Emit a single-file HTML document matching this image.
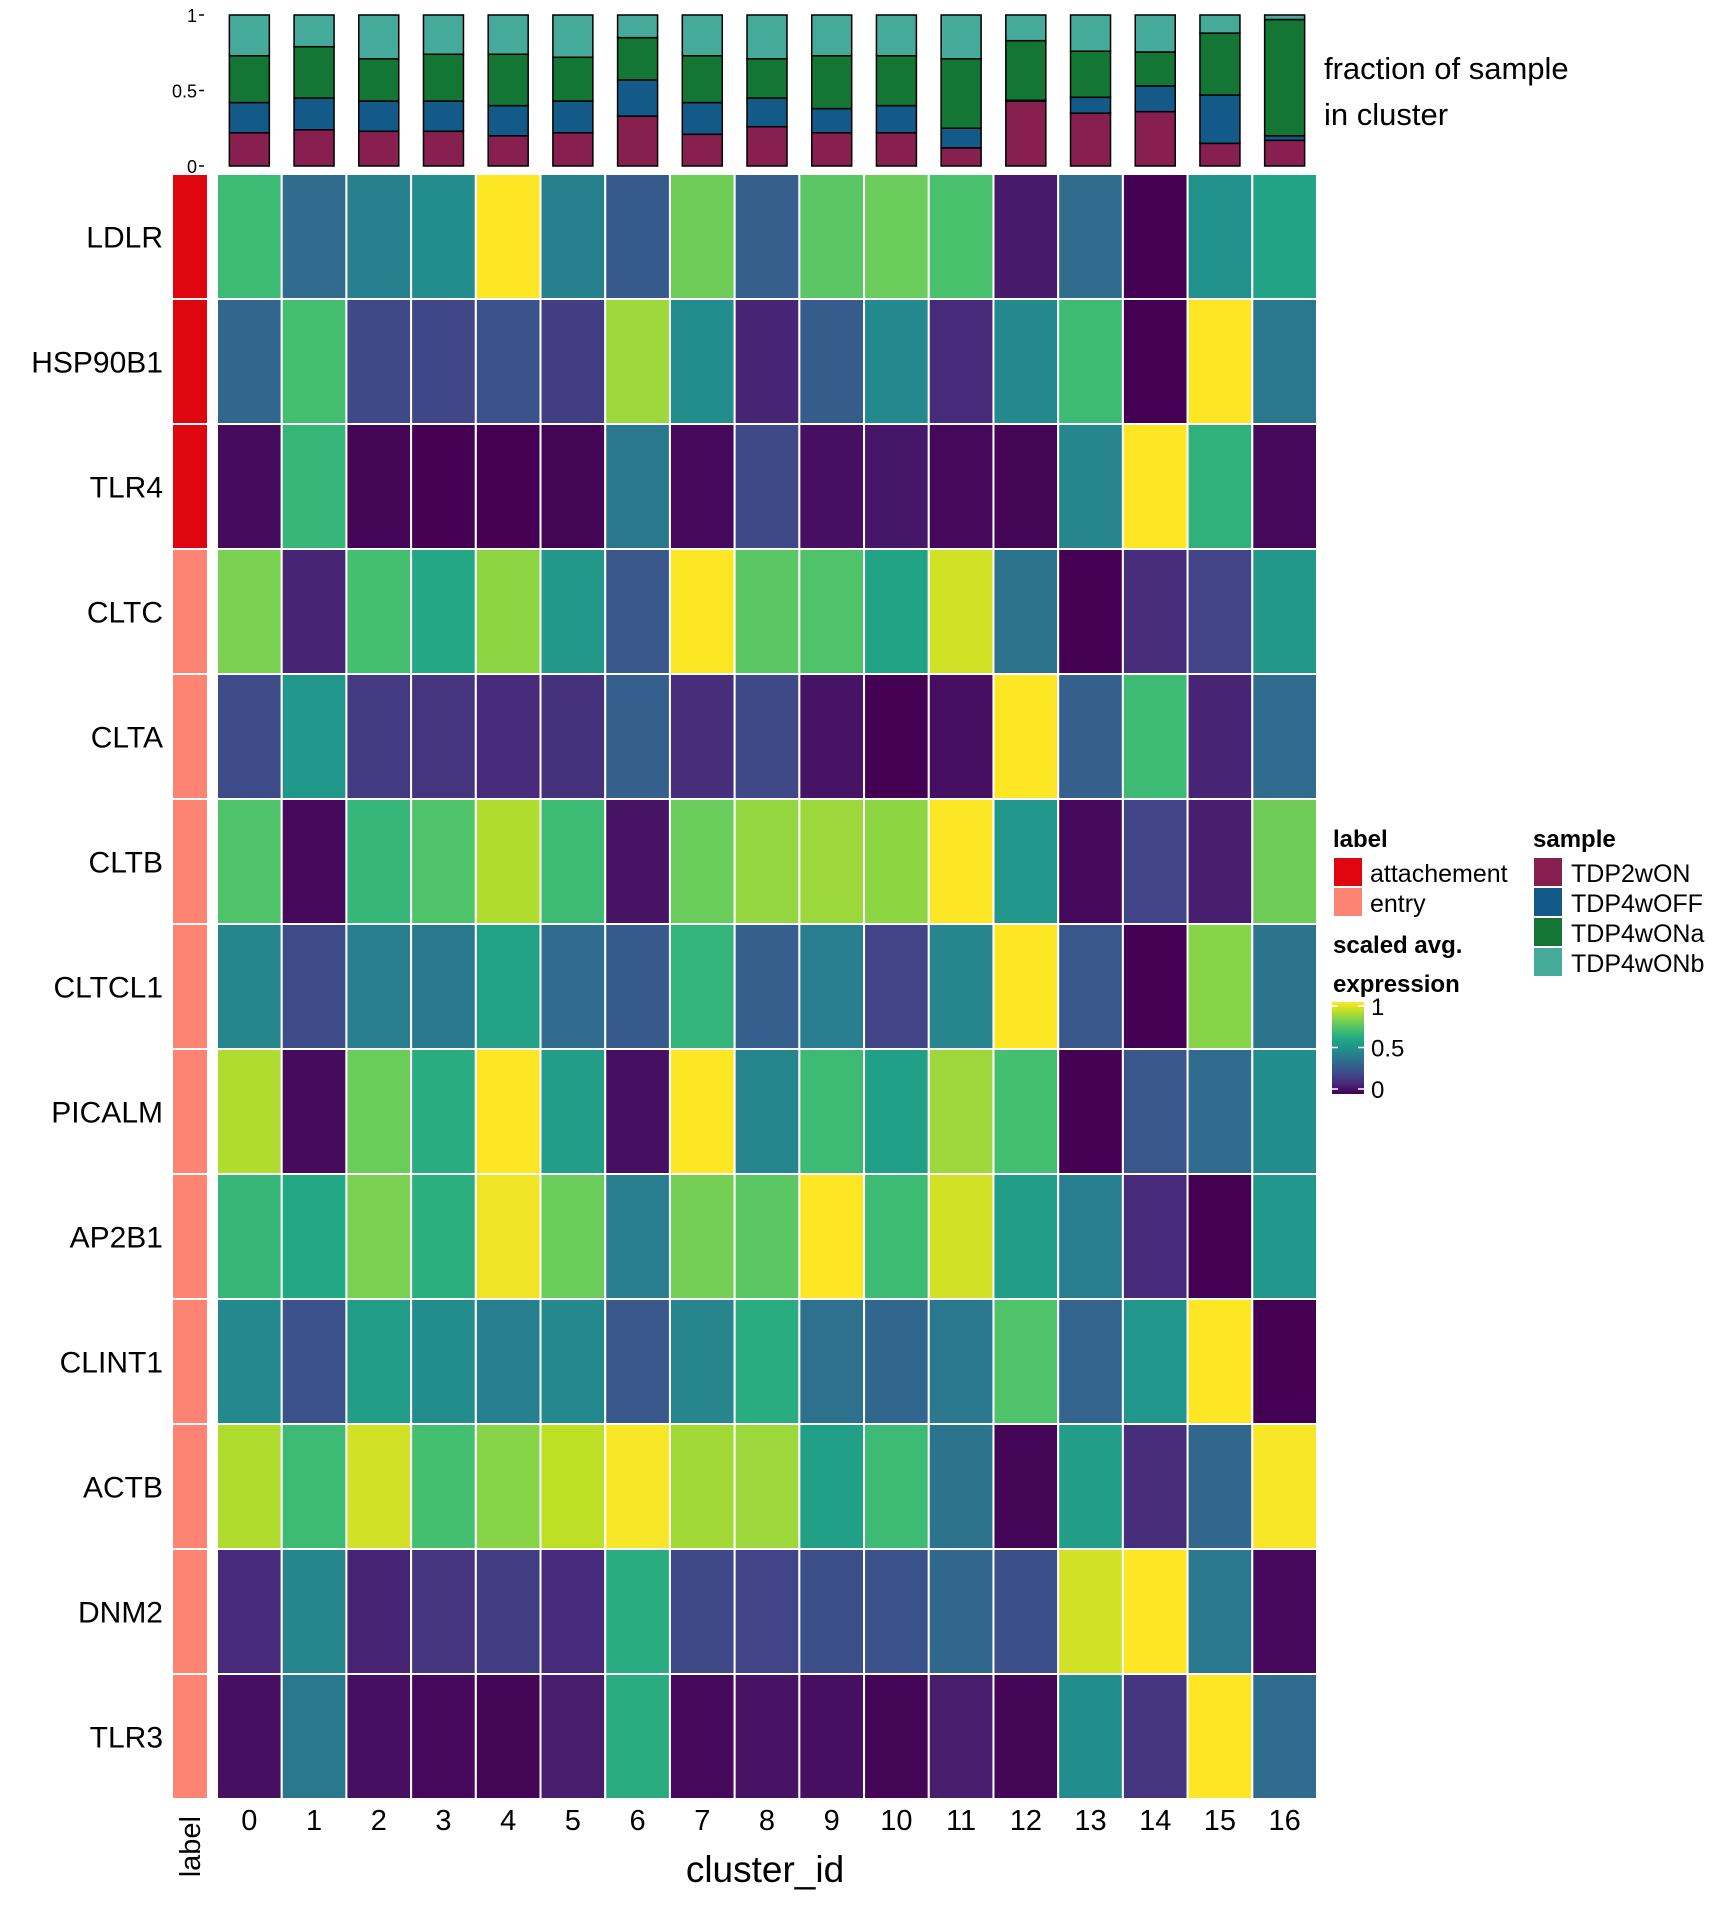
<!DOCTYPE html>
<html><head><meta charset="utf-8"><style>
html,body{margin:0;padding:0;background:#fff}
svg{display:block;font-family:"Liberation Sans",sans-serif}
</style></head><body>
<svg id="chart" width="1728" height="1920" viewBox="0 0 1728 1920"></svg>
<script>
const clusters=["0","1","2","3","4","5","6","7","8","9","10","11","12","13","14","15","16"];
const genes=["LDLR","HSP90B1","TLR4","CLTC","CLTA","CLTB","CLTCL1","PICALM","AP2B1","CLINT1","ACTB","DNM2","TLR3"];
const geneLabels=["attachement","attachement","attachement","entry","entry","entry","entry","entry","entry","entry","entry","entry","entry"];
const vLDLR=[0.68,0.35,0.43,0.48,1.0,0.43,0.28,0.78,0.3,0.74,0.77,0.71,0.07,0.35,0.0,0.5,0.58];
const vHSP90B1=[0.33,0.7,0.22,0.21,0.26,0.18,0.85,0.48,0.1,0.29,0.47,0.12,0.47,0.68,0.0,1.0,0.4];
const vTLR4=[0.03,0.66,0.01,0.0,0.0,0.01,0.4,0.02,0.22,0.04,0.06,0.02,0.01,0.45,1.0,0.64,0.02];
const vCLTC=[0.8,0.1,0.7,0.6,0.83,0.53,0.27,1.0,0.74,0.72,0.58,0.93,0.38,0.0,0.13,0.2,0.53];
const vCLTA=[0.23,0.52,0.17,0.15,0.12,0.14,0.3,0.13,0.22,0.05,0.0,0.04,1.0,0.3,0.68,0.1,0.35];
const vCLTB=[0.72,0.02,0.66,0.72,0.88,0.68,0.05,0.77,0.84,0.85,0.83,1.0,0.52,0.02,0.2,0.08,0.78];
const vCLTCL1=[0.45,0.23,0.42,0.4,0.57,0.35,0.28,0.65,0.3,0.42,0.2,0.45,1.0,0.27,0.0,0.82,0.38];
const vPICALM=[0.88,0.03,0.77,0.62,1.0,0.55,0.04,1.0,0.45,0.68,0.56,0.85,0.7,0.0,0.27,0.35,0.48];
const vAP2B1=[0.66,0.6,0.8,0.63,0.98,0.77,0.42,0.79,0.74,1.0,0.68,0.93,0.55,0.42,0.12,0.0,0.52];
const vCLINT1=[0.47,0.25,0.55,0.48,0.43,0.47,0.27,0.45,0.62,0.37,0.33,0.4,0.72,0.32,0.52,1.0,0.0];
const vACTB=[0.88,0.68,0.93,0.7,0.82,0.9,0.99,0.86,0.85,0.56,0.68,0.38,0.01,0.55,0.13,0.33,0.99];
const vDNM2=[0.12,0.45,0.1,0.15,0.18,0.12,0.62,0.22,0.2,0.24,0.25,0.33,0.24,0.93,1.0,0.4,0.02];
const vTLR3=[0.04,0.4,0.04,0.02,0.01,0.08,0.62,0.02,0.05,0.04,0.01,0.08,0.01,0.48,0.15,1.0,0.35];
const samples=["TDP2wON","TDP4wOFF","TDP4wONa","TDP4wONb"];
const fTDP2wON=[0.22,0.24,0.23,0.23,0.20,0.22,0.33,0.21,0.26,0.22,0.22,0.12,0.43,0.35,0.36,0.15,0.17];
const fTDP4wOFF=[0.20,0.21,0.20,0.20,0.20,0.21,0.24,0.21,0.19,0.16,0.18,0.13,0.005,0.105,0.17,0.32,0.03];
const fTDP4wONa=[0.31,0.34,0.28,0.31,0.34,0.29,0.28,0.31,0.26,0.35,0.33,0.46,0.395,0.305,0.225,0.41,0.77];
const fTDP4wONb=[0.27,0.21,0.29,0.26,0.26,0.28,0.15,0.27,0.29,0.27,0.27,0.29,0.17,0.24,0.245,0.12,0.03];
const barTicks=[0,0.5,1];
const legendTicks=[0,0.5,1];

const NS="http://www.w3.org/2000/svg";
const svg=document.getElementById('chart');
function mk(tag,attrs,parent){const e=document.createElementNS(NS,tag);for(const k in attrs)e.setAttribute(k,attrs[k]);(parent||svg).appendChild(e);return e;}
const vir=["#440154","#482475","#414487","#355f8d","#2a788e","#21918c","#22a884","#44bf70","#7ad151","#bddf26","#fde725"];
function hx(c){return [1,3,5].map(i=>parseInt(c.substr(i,2),16));}
function viridis(t){t=Math.max(0,Math.min(1,t));const p=t*10;const i=Math.min(9,Math.floor(p));const f=p-i;const a=hx(vir[i]),b=hx(vir[i+1]);return "rgb("+a.map((v,k)=>Math.round(v+(b[k]-v)*f)).join(",")+")";}
const sampleColors={"TDP2wON":"#87204f","TDP4wOFF":"#135a88","TDP4wONa":"#137635","TDP4wONb":"#45aa99"};
const labelColors={"attachement":"#e0060f","entry":"#fd8373"};
const rows=[vLDLR,vHSP90B1,vTLR4,vCLTC,vCLTA,vCLTB,vCLTCL1,vPICALM,vAP2B1,vCLINT1,vACTB,vDNM2,vTLR3];
const fr=[fTDP2wON,fTDP4wOFF,fTDP4wONa,fTDP4wONb];

const hmL=217,hmR=1317,hmT=174,hmB=1799;
const cw=(hmR-hmL)/clusters.length, rh=(hmB-hmT)/genes.length;
const xCol=i=>hmL+i*cw, yRow=j=>hmT+j*rh;
const b0=166,b1=15;
const yB=v=>b0-(b0-b1)*v;

genes.forEach((g,j)=>{
  clusters.forEach((c,i)=>{
    const r=mk('rect',{x:xCol(i),y:yRow(j),width:cw,height:rh,fill:viridis(rows[j][i]),stroke:'#fff','stroke-width':2});
    
    
  });
  const lr=mk('rect',{x:172,y:yRow(j),width:36,height:rh,fill:labelColors[geneLabels[j]],stroke:'#fff','stroke-width':2});
  
  
  const t=mk('text',{x:163,y:yRow(j)+rh/2+11,'text-anchor':'end','font-size':30,fill:'#000'});
  t.textContent=g;
  
  
});
clusters.forEach((c,i)=>{
  const t=mk('text',{x:xCol(i)+cw/2,y:1830,'text-anchor':'middle','font-size':29,fill:'#000'});
  t.textContent=c;
  
  
  let acc=0;const bw=40,bx=xCol(i)+cw/2-bw/2;
  fr.forEach((arr,k)=>{
    const v=arr[i];
    const r=mk('rect',{x:bx,y:yB(acc+v),width:bw,height:yB(acc)-yB(acc+v),fill:sampleColors[samples[k]],stroke:'#000','stroke-width':1.5});
    
    
    acc+=v;
  });
});
barTicks.forEach(v=>{
  const t=mk('text',{x:197,y:yB(v)+7,'text-anchor':'end','font-size':18,fill:'#000'});
  t.textContent=String(v);
  
  
  mk('line',{x1:199,x2:204,y1:yB(v),y2:yB(v),stroke:'#000','stroke-width':1.5});
});
function txt(x,y,s,size,name,extra){const t=mk('text',Object.assign({x:x,y:y,'font-size':size,fill:'#000'},extra||{}));t.textContent=s;return t;}
txt(1324,79,'fraction of sample',31,'bar-title-line1');
txt(1324,125,'in cluster',31,'bar-title-line2');
txt(765,1882,'cluster_id',37,'x-axis-title',{'text-anchor':'middle'});
txt(0,0,'label',29,'label-axis-title',{transform:'translate(200,1816) rotate(-90)','text-anchor':'end'});
txt(1333,847,'label',24,'legend-label-title',{'font-weight':'bold'});
['attachement','entry'].forEach((l,k)=>{
  const r=mk('rect',{x:1334,y:858+k*30,width:28,height:28,fill:labelColors[l]});
  
  txt(1370,882+k*30,l,25,'legend-entry-'+l);
});
txt(1333,953,'scaled avg.',24,'legend-color-title1',{'font-weight':'bold'});
txt(1333,992,'expression',24,'legend-color-title2',{'font-weight':'bold'});
const defs=mk('defs',{});const lg=mk('linearGradient',{id:'vg',x1:0,y1:1,x2:0,y2:0},defs);
vir.forEach((c,k)=>mk('stop',{offset:(k*10)+'%','stop-color':c},lg));
const cb=mk('rect',{x:1332,y:1002,width:32,height:92,fill:'url(#vg)'});

const cbY=v=>1089-v*83;
legendTicks.forEach(v=>{
  mk('line',{x1:1332,x2:1338,y1:cbY(v),y2:cbY(v),stroke:'#fff','stroke-width':1.5});
  mk('line',{x1:1358,x2:1364,y1:cbY(v),y2:cbY(v),stroke:'#fff','stroke-width':1.5});
  txt(1371,cbY(v)+9,String(v),24,'colorbar-tick');
});
txt(1533,847,'sample',24,'legend-sample-title',{'font-weight':'bold'});
samples.forEach((s,k)=>{
  const r=mk('rect',{x:1534,y:858+k*30,width:28,height:28,fill:sampleColors[s]});
  
  txt(1571,882+k*30,s,25,'legend-entry-'+s);
});
</script>
</body></html>
